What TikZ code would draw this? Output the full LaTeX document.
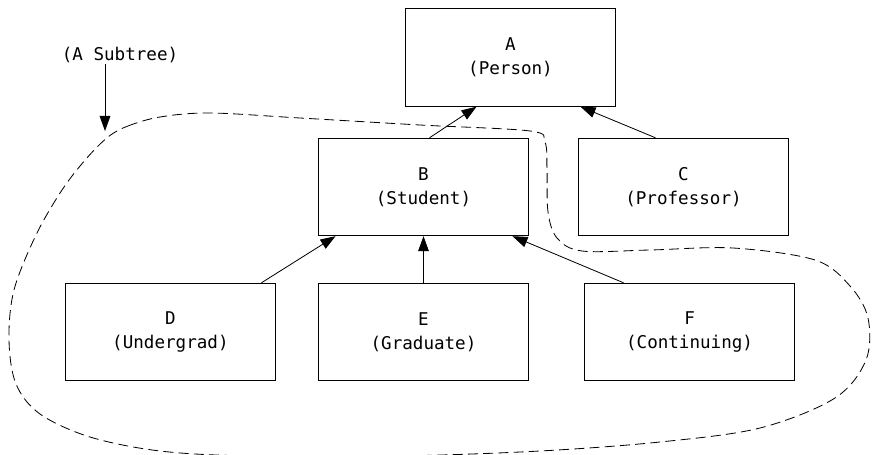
\documentclass[tikz,border=0pt]{standalone}
\usepackage{fontspec}
\setmonofont{DejaVu Sans Mono}
\usepackage{tikz}
\usetikzlibrary{arrows.meta, positioning, calc}

\begin{document}
\begin{tikzpicture}[
    x=0.03cm, y=-0.03cm,
    box/.style={rectangle, draw, line width=0.9pt, minimum width=6.3cm, minimum height=2.92cm, inner sep=0pt, align=center, font=\ttfamily\fontsize{15}{20.5}\selectfont},
    lbl/.style={font=\ttfamily\fontsize{15}{20.5}\selectfont, inner sep=1pt},
    arr/.style={-{Triangle[length=4.5mm, width=3.2mm]}, line width=0.7pt},
    subtree/.style={line width=0.7pt, dash pattern=on 8.5pt off 4.5pt},
  ]
    \useasboundingbox (0,0) rectangle (872,455);

    \node[box] (A) at (510.5,57.5) {A\\(Person)};
    \node[box] (B) at (423.5,187) {B\\(Student)};
    \node[box] (C) at (683.5,187) {C\\(Professor)};
    \node[box] (E) at (423.5,332) {E\\(Graduate)};
    \node[box, left=1.26cm of E] (D) {D\\(Undergrad)};
    \node[box, right=1.65cm of E] (F) {F\\(Continuing)};

    \draw[arr] ($(B.north)+(6,0)$) -- ($(A.south)+(-34,0)$);
    \draw[arr] ($(C.north)+(-28,0)$) -- ($(A.south)+(70,0)$);
    \draw[arr] ($(D.north)+(91,0)$) -- ($(B.south)+(-88,0)$);
    \draw[arr] (E.north) -- (B.south);
    \draw[arr] ($(F.north)+(-66,0)$) -- ($(B.south)+(89,0)$);

    % the subtree under B
    \node[lbl] (note) at (120,55) {(A Subtree)};
    \coordinate (tip) at (105,131);
    \draw[arr] ($(note.south)+(-15,0)$) -- (tip);

    \draw[subtree] plot[smooth cycle, tension=0.55] coordinates {
      (108,137) (128,126) (160,117) (210,113) (300,118) (420,125) (530,131)
      (545,142) (547,170) (548,212) (557,238) (582,251) (650,250) (733,248)
      (815,260) (850,286) (868,318) (866,360) (835,398) (760,428) (660,442)
      (540,451) (400,456) (250,456) (160,451) (90,437) (40,414) (16,384)
      (9,340) (14,290) (36,235) (62,190) (86,159)
    };
  \end{tikzpicture}
\end{document}
